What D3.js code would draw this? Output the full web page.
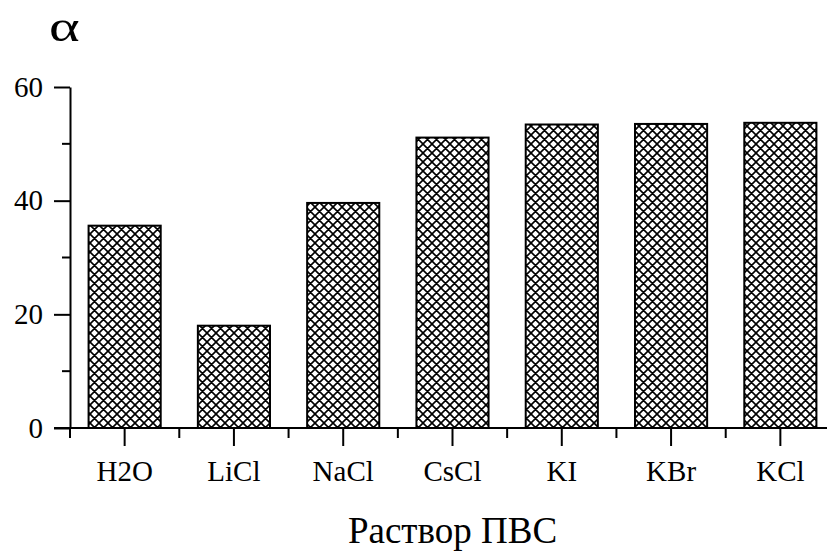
<!DOCTYPE html>
<html>
<head>
<meta charset="utf-8">
<script src="https://cdn.jsdelivr.net/npm/d3@7"></script>
<style>
  body { margin: 0; background: #fff; }
  svg { display: block; }
</style>
</head>
<body>
<div id="chart"></div>
<script>
// values
var categories = ["H2O", "LiCl", "NaCl", "CsCl", "KI", "KBr", "KCl"];
var alphaValues = [35.6, 18.0, 39.6, 51.1, 53.4, 53.5, 53.7];
var yTicks = [0, 20, 40, 60];
var yMinorTicks = [10, 30, 50];

var width = 827, height = 554;
var serif = "Liberation Serif";

var svg = d3.select("#chart").append("svg")
  .attr("width", width)
  .attr("height", height);

// cross hatch fill
var defs = svg.append("defs");
var pat = defs.append("pattern")
  .attr("id", "hatch")
  .attr("patternUnits", "userSpaceOnUse")
  .attr("width", 9)
  .attr("height", 9);
pat.append("rect").attr("width", 9).attr("height", 9).attr("fill", "#fff");
pat.append("path")
  .attr("d", "M-2,-2L11,11M-2,11L11,-2M-2,7L2,11M7,-2L11,2M-2,2L2,-2M7,11L11,7")
  .attr("stroke", "#000")
  .attr("stroke-width", 1.6);

var x = d3.scaleBand()
  .domain(categories)
  .range([70, 835])
  .paddingInner(0.34)
  .paddingOuter(0.17);

var y = d3.scaleLinear()
  .domain([0, 60])
  .range([428, 87]);

// bars
svg.selectAll(".bar")
  .data(categories)
  .enter().append("rect")
  .attr("class", "bar")
  .attr("x", function (d) { return x(d); })
  .attr("width", x.bandwidth())
  .attr("y", function (d, i) { return y(alphaValues[i]); })
  .attr("height", function (d, i) { return y(0) - y(alphaValues[i]); })
  .attr("fill", "url(#hatch)")
  .attr("stroke", "#000")
  .attr("stroke-width", 2);

// x axis
var xAxis = svg.append("g")
  .attr("class", "axis")
  .attr("transform", "translate(0," + y(0) + ")")
  .call(d3.axisBottom(x).tickSize(18).tickPadding(14).tickSizeOuter(0))
  .attr("font-family", serif)
  .attr("font-size", 29);
xAxis.select(".domain").attr("stroke", "#000").attr("stroke-width", 2)
  .attr("d", "M54,0H" + width);
xAxis.selectAll(".tick line").attr("stroke-width", 2);

// minor ticks at category boundaries
var bounds = categories.map(function (c) { return x(c) + x.bandwidth() / 2 - x.step() / 2; });
xAxis.selectAll(".minor")
  .data(bounds)
  .enter().append("line")
  .attr("class", "minor")
  .attr("x1", function (d) { return d; })
  .attr("x2", function (d) { return d; })
  .attr("y1", 0)
  .attr("y2", 10)
  .attr("stroke", "#000")
  .attr("stroke-width", 2);

// y axis
var yAxis = svg.append("g")
  .attr("class", "axis")
  .attr("transform", "translate(70,0)")
  .call(d3.axisLeft(y).tickValues(yTicks).tickSize(16).tickPadding(11).tickSizeOuter(0))
  .attr("font-family", serif)
  .attr("font-size", 29);
yAxis.select(".domain").attr("stroke-width", 2);
yAxis.selectAll(".tick line").attr("stroke-width", 2);

yAxis.selectAll(".minor")
  .data(yMinorTicks)
  .enter().append("line")
  .attr("class", "minor")
  .attr("x1", -8)
  .attr("x2", 0)
  .attr("y1", function (d) { return y(d); })
  .attr("y2", function (d) { return y(d); })
  .attr("stroke", "#000")
  .attr("stroke-width", 2);

// axis titles
svg.append("text")
  .attr("transform", "translate(49,41) scale(1.3,1)")
  .attr("font-family", serif)
  .attr("font-size", 45)
  .text("α");

svg.append("text")
  .attr("x", (70 + 835) / 2)
  .attr("y", 543)
  .attr("text-anchor", "middle")
  .attr("font-family", serif)
  .attr("font-size", 37)
  .text("Раствор ПВС");
</script>
</body>
</html>
